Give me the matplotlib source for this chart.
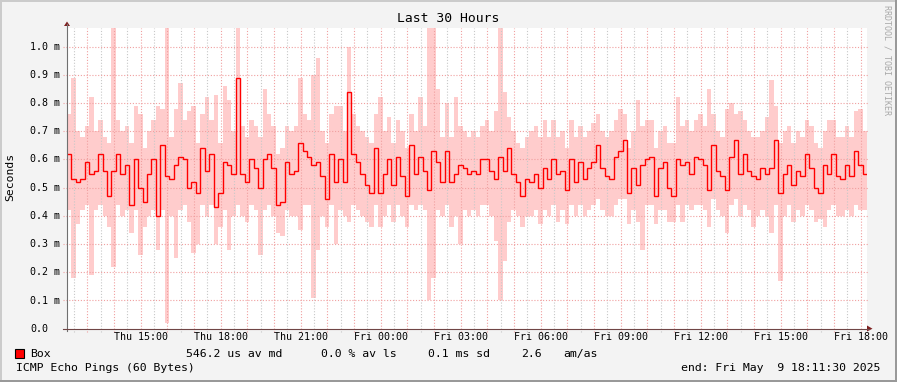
import pandas as pd
import matplotlib
matplotlib.use('Agg')
import matplotlib.pyplot as plt
import matplotlib.dates as mdates
from matplotlib.patches import Rectangle, Polygon
from matplotlib.lines import Line2D

# data: median rtt and smoke envelope [ms], one value per 10 min step
median_ms = [
    0.62, 0.53, 0.52, 0.53, 0.59, 0.55, 0.56, 0.62, 0.56, 0.47,
    0.56, 0.62, 0.55, 0.58, 0.44, 0.60, 0.50, 0.45, 0.55, 0.60,
    0.40, 0.65, 0.54, 0.53, 0.58, 0.61, 0.60, 0.50, 0.52, 0.48,
    0.64, 0.56, 0.62, 0.43, 0.48, 0.59, 0.58, 0.55, 0.89, 0.55,
    0.52, 0.60, 0.57, 0.50, 0.60, 0.62, 0.57, 0.44, 0.45, 0.59,
    0.55, 0.56, 0.66, 0.63, 0.61, 0.58, 0.59, 0.54, 0.46, 0.62,
    0.52, 0.60, 0.52, 0.84, 0.62, 0.59, 0.55, 0.51, 0.48, 0.64,
    0.48, 0.55, 0.60, 0.51, 0.61, 0.54, 0.47, 0.65, 0.55, 0.61,
    0.56, 0.49, 0.63, 0.59, 0.52, 0.63, 0.52, 0.55, 0.58, 0.57,
    0.55, 0.56, 0.55, 0.60, 0.60, 0.56, 0.53, 0.61, 0.56, 0.64,
    0.55, 0.52, 0.47, 0.53, 0.52, 0.55, 0.50, 0.57, 0.53, 0.60,
    0.55, 0.56, 0.49, 0.60, 0.52, 0.59, 0.53, 0.57, 0.59, 0.65,
    0.57, 0.54, 0.53, 0.61, 0.63, 0.67, 0.48, 0.57, 0.51, 0.58,
    0.60, 0.61, 0.47, 0.57, 0.59, 0.50, 0.47, 0.60, 0.58, 0.59,
    0.55, 0.61, 0.60, 0.58, 0.49, 0.65, 0.56, 0.54, 0.49, 0.61,
    0.67, 0.55, 0.62, 0.56, 0.54, 0.53, 0.57, 0.55, 0.57, 0.67,
    0.48, 0.55, 0.58, 0.51, 0.56, 0.54, 0.62, 0.57, 0.50, 0.48,
    0.58, 0.55, 0.62, 0.54, 0.53, 0.58, 0.54, 0.63, 0.58, 0.55,
]
smoke_hi_ms = [
    0.76, 0.89, 0.70, 0.68, 0.72, 0.82, 0.70, 0.74, 0.68, 0.66,
    1.07, 0.74, 0.70, 0.72, 0.66, 0.79, 0.76, 0.64, 0.70, 0.74,
    0.79, 0.78, 1.07, 0.68, 0.78, 0.87, 0.74, 0.77, 0.79, 0.66,
    0.76, 0.82, 0.74, 0.83, 0.66, 0.86, 0.81, 0.70, 1.07, 0.72,
    0.68, 0.74, 0.72, 0.68, 0.85, 0.76, 0.72, 0.62, 0.64, 0.72,
    0.70, 0.72, 0.89, 0.76, 0.74, 0.90, 0.96, 0.70, 0.66, 0.76,
    0.79, 0.79, 0.70, 1.00, 0.76, 0.72, 0.70, 0.68, 0.66, 0.76,
    0.82, 0.70, 0.75, 0.66, 0.74, 0.70, 0.64, 0.76, 0.70, 0.82,
    0.72, 1.07, 1.07, 0.85, 0.68, 0.80, 0.68, 0.82, 0.72, 0.70,
    0.68, 0.70, 0.68, 0.72, 0.74, 0.70, 0.77, 1.07, 0.84, 0.75,
    0.70, 0.66, 0.64, 0.68, 0.70, 0.72, 0.68, 0.74, 0.68, 0.74,
    0.68, 0.70, 0.64, 0.74, 0.68, 0.72, 0.68, 0.70, 0.73, 0.76,
    0.70, 0.68, 0.70, 0.74, 0.78, 0.76, 0.64, 0.70, 0.81, 0.72,
    0.74, 0.74, 0.64, 0.70, 0.72, 0.66, 0.66, 0.82, 0.72, 0.74,
    0.70, 0.74, 0.76, 0.72, 0.85, 0.76, 0.70, 0.68, 0.78, 0.80,
    0.76, 0.77, 0.74, 0.70, 0.68, 0.68, 0.70, 0.75, 0.88, 0.79,
    0.66, 0.70, 0.72, 0.66, 0.70, 0.68, 0.74, 0.72, 0.66, 0.64,
    0.70, 0.74, 0.74, 0.68, 0.68, 0.72, 0.68, 0.77, 0.78, 0.70,
]
smoke_lo_ms = [
    0.42, 0.18, 0.37, 0.42, 0.44, 0.19, 0.42, 0.44, 0.40, 0.36,
    0.22, 0.44, 0.40, 0.42, 0.34, 0.42, 0.26, 0.36, 0.40, 0.42,
    0.28, 0.42, 0.02, 0.40, 0.25, 0.42, 0.44, 0.38, 0.27, 0.30,
    0.44, 0.40, 0.44, 0.30, 0.36, 0.42, 0.28, 0.40, 0.44, 0.40,
    0.38, 0.44, 0.42, 0.26, 0.42, 0.44, 0.40, 0.34, 0.33, 0.42,
    0.40, 0.40, 0.35, 0.44, 0.44, 0.11, 0.28, 0.40, 0.36, 0.44,
    0.30, 0.42, 0.40, 0.38, 0.44, 0.42, 0.40, 0.38, 0.36, 0.44,
    0.36, 0.40, 0.44, 0.38, 0.44, 0.40, 0.36, 0.44, 0.42, 0.44,
    0.42, 0.10, 0.18, 0.42, 0.40, 0.44, 0.36, 0.40, 0.30, 0.42,
    0.40, 0.42, 0.40, 0.44, 0.44, 0.40, 0.31, 0.10, 0.24, 0.38,
    0.42, 0.40, 0.36, 0.40, 0.40, 0.42, 0.37, 0.42, 0.40, 0.44,
    0.38, 0.42, 0.37, 0.44, 0.40, 0.44, 0.40, 0.42, 0.44, 0.46,
    0.42, 0.40, 0.40, 0.44, 0.46, 0.46, 0.37, 0.42, 0.38, 0.28,
    0.44, 0.44, 0.37, 0.42, 0.42, 0.38, 0.38, 0.44, 0.38, 0.44,
    0.42, 0.44, 0.44, 0.42, 0.36, 0.46, 0.42, 0.40, 0.34, 0.44,
    0.46, 0.40, 0.44, 0.42, 0.36, 0.40, 0.42, 0.40, 0.34, 0.44,
    0.17, 0.40, 0.44, 0.38, 0.42, 0.40, 0.44, 0.42, 0.38, 0.39,
    0.36, 0.42, 0.44, 0.40, 0.40, 0.42, 0.40, 0.44, 0.42, 0.42,
]

ytick_vals = [0.0, 0.1, 0.2, 0.3, 0.4, 0.5, 0.6, 0.7, 0.8, 0.9, 1.0]
ytick_labels = ['0.0', '0.1 m', '0.2 m', '0.3 m', '0.4 m', '0.5 m',
                '0.6 m', '0.7 m', '0.8 m', '0.9 m', '1.0 m']
xtick_labels = ['Thu 15:00', 'Thu 18:00', 'Thu 21:00', 'Fri 00:00', 'Fri 03:00',
                'Fri 06:00', 'Fri 09:00', 'Fri 12:00', 'Fri 15:00', 'Fri 18:00']
legend_stats = [('546.2 us av md', 186), ('0.0 % av ls', 321),
                ('0.1 ms sd', 428), ('2.6', 521), ('am/as', 563)]

# params
_W, _H = 897, 382
_font = 'DejaVu Sans Mono'
_smokecol = '#ffcccc'
_mgridcol = '#f0a0a0'
_gridcol = '#c8c8c8'
_dots = (0, (1.0, 1.6))
_start = pd.Timestamp('2025-05-08 12:14')
_end = _start + pd.Timedelta(30, 'h')


def fx(x):
    return x / _W


def fy(y):
    return 1 - y / _H


# figure
fig = plt.figure(figsize=(_W / 100, _H / 100), dpi=100, facecolor='#f3f3f3')

# 3d-ish frame
fig.add_artist(Rectangle((0, 0), 1, fy(2) - fy(0) + 1, transform=fig.transFigure,
                         fc='none', ec='none'))
for xy, w, h, c in [((0, 1 - 2 / _H), 1, 2 / _H, '#cbcbcb'),
                    ((0, 0), 2 / _W, 1, '#cbcbcb'),
                    ((0, 0), 1, 2 / _H, '#999999'),
                    ((1 - 2 / _W, 0), 2 / _W, 1, '#999999')]:
    fig.add_artist(Rectangle(xy, w, h, transform=fig.transFigure, fc=c, ec='none'))

ax = fig.add_axes([fx(67), fy(328.7), 800 / _W, 301 / _H])
ax.set_facecolor('white')
for s in ax.spines.values():
    s.set_visible(False)

edges = mdates.date2num(pd.date_range(_start, periods=len(median_ms) + 1, freq='10min'))
x0, x1 = mdates.date2num(_start), mdates.date2num(_end)
ax.set_xlim(x0, x1)
ax.set_ylim(0, 1.067)

# smoke and median
ax.stairs(smoke_hi_ms, edges, baseline=smoke_lo_ms, fill=True,
          color=_smokecol, lw=0, zorder=1)
ax.stairs(median_ms, edges, baseline=None, color='#ff0000', lw=1.0, zorder=4)

# grid
pxx = (x1 - x0) / 800
pxy = 1.067 / 301
for t in pd.date_range('2025-05-08 12:30', '2025-05-09 18:00', freq='30min'):
    xv = mdates.date2num(t)
    major = t.minute == 0
    ax.vlines(xv, -3 * pxy, 1.067, colors=_mgridcol if major else _gridcol,
              linestyles=_dots, lw=0.8, zorder=2, clip_on=False)
for yv in ytick_vals[1:]:
    ax.hlines(yv, x0 - 4 * pxx, x1 + 2 * pxx, colors=_mgridcol,
              linestyles=_dots, lw=0.8, zorder=2, clip_on=False)

# axes lines and arrows
fig.add_artist(Line2D([fx(67), fx(67)], [fy(331), fy(24)], color='#707070', lw=0.8))
fig.add_artist(Line2D([fx(63), fx(869)], [fy(328.7), fy(328.7)], color='#704545', lw=0.8))
fig.add_artist(Polygon([(fx(64), fy(26)), (fx(70), fy(26)), (fx(67), fy(21.5))],
                       closed=True, transform=fig.transFigure, fc='#7f1f1f', ec='none'))
fig.add_artist(Polygon([(fx(867), fy(325.5)), (fx(867), fy(331.5)), (fx(872.5), fy(328.7))],
                       closed=True, transform=fig.transFigure, fc='#7f1f1f', ec='none'))

# ticks
ax.set_xticks([])
ax.set_yticks([])
for yv, lab in zip(ytick_vals, ytick_labels):
    fig.text(fx(30), fy(328.7 - yv * 282), lab, ha='left', va='center',
             family=_font, fontsize=7.2)
xticks = pd.date_range('2025-05-08 15:00', periods=len(xtick_labels), freq='3h')
for t, lab in zip(xticks, xtick_labels):
    xp = 67 + (mdates.date2num(t) - x0) / pxx
    fig.text(fx(xp), fy(337), lab, ha='center', va='center',
             family=_font, fontsize=7.2)

# texts
fig.text(fx(448), fy(19), 'Last 30 Hours', ha='center', va='center',
         family=_font, fontsize=9.4)
fig.text(fx(10), fy(177), 'Seconds', ha='center', va='center', rotation=90,
         family=_font, fontsize=8.2)
fig.text(fx(887), fy(5), 'RRDTOOL / TOBI OETIKER', ha='center', va='top',
         rotation=270, family=_font, fontsize=6, color='#a8a8a8')

# legend
fig.add_artist(Rectangle((fx(15), fy(358)), 9 / _W, 9 / _H, transform=fig.transFigure,
                         fc='#ff0000', ec='black', lw=0.8))
fig.text(fx(30), fy(354), 'Box', ha='left', va='center', family=_font, fontsize=8.25)
for txt, xp in legend_stats:
    fig.text(fx(xp), fy(354), txt, ha='left', va='center', family=_font, fontsize=8.25)
fig.text(fx(16), fy(368), 'ICMP Echo Pings (60 Bytes)', ha='left', va='center',
         family=_font, fontsize=8.25)
fig.text(fx(880), fy(368), 'end: Fri May  9 18:11:30 2025', ha='right', va='center',
         family=_font, fontsize=8.25)

fig.savefig('out.png', dpi=100, facecolor=fig.get_facecolor())
